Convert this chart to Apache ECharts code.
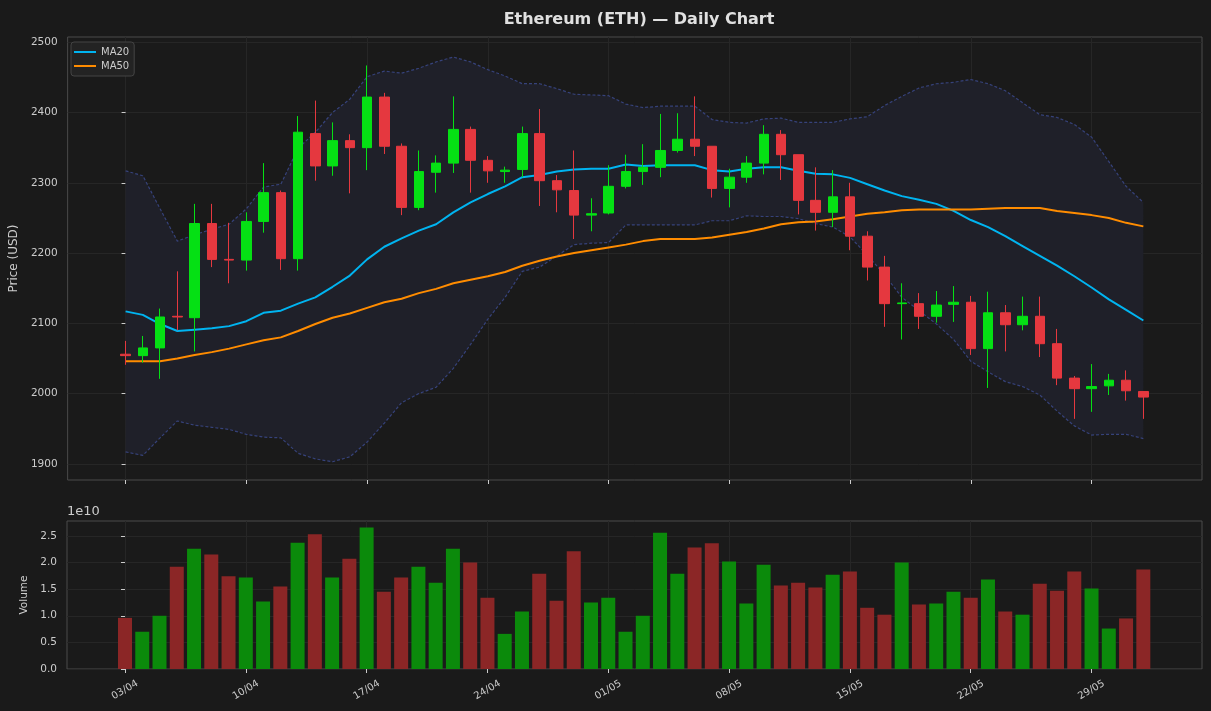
<!DOCTYPE html>
<html>
<head>
<meta charset="utf-8">
<title>Ethereum (ETH) — Daily Chart</title>
<script src="https://cdn.jsdelivr.net/npm/echarts@6/dist/echarts.min.js"></script>
<style>
  html, body { margin: 0; padding: 0; background: #1a1a1a; }
  #chart { width: 1211px; height: 711px; }
</style>
</head>
<body>
<div id="chart"></div>
<script>
  // weekly ticks (day index from 03/04)
  const tickDays = [0, 7, 14, 21, 28, 35, 42, 49, 56]
  const tickLabels = ['03/04', '10/04', '17/04', '24/04', '01/05', '08/05', '15/05', '22/05', '29/05']
  const priceTicks = [1900, 2000, 2100, 2200, 2300, 2400, 2500]
  const volTicks = [0, 0.5e10, 1e10, 1.5e10, 2e10, 2.5e10]

  // OHLC, one per day
  const opens = [2056, 2054, 2065, 2110, 2108, 2242, 2191, 2190, 2245, 2286,
    2192, 2370, 2324, 2360, 2350, 2422, 2352, 2265, 2315, 2328,
    2376, 2332, 2316, 2319, 2370, 2303, 2289, 2254, 2257, 2295,
    2316, 2322, 2346, 2362, 2352, 2292, 2308, 2328, 2369, 2340,
    2275, 2258, 2280, 2224, 2180, 2128, 2128, 2110, 2127, 2130,
    2064, 2115, 2098, 2110, 2071, 2022, 2007, 2011, 2019, 2003]
  const closes = [2054, 2065, 2109, 2109, 2242, 2191, 2190, 2245, 2286, 2192,
    2372, 2324, 2360, 2350, 2422, 2352, 2265, 2316, 2328, 2376,
    2332, 2317, 2318, 2370, 2303, 2290, 2254, 2256, 2295, 2316,
    2322, 2346, 2362, 2352, 2292, 2308, 2328, 2369, 2340, 2275,
    2258, 2280, 2224, 2180, 2128, 2129, 2110, 2126, 2130, 2064,
    2115, 2098, 2110, 2071, 2022, 2007, 2010, 2019, 2004, 1995]
  const lows = [2041, 2044, 2021, 2090, 2060, 2180, 2157, 2175, 2229, 2176,
    2175, 2303, 2310, 2285, 2318, 2341, 2254, 2261, 2286, 2314,
    2286, 2300, 2300, 2308, 2267, 2258, 2220, 2231, 2255, 2292,
    2297, 2308, 2343, 2338, 2279, 2265, 2300, 2312, 2304, 2255,
    2232, 2237, 2204, 2161, 2095, 2077, 2092, 2101, 2102, 2055,
    2008, 2060, 2090, 2052, 2012, 1964, 1974, 1998, 1990, 1964]
  const highs = [2075, 2082, 2121, 2174, 2270, 2270, 2243, 2258, 2328, 2289,
    2395, 2417, 2386, 2369, 2467, 2428, 2356, 2346, 2339, 2423,
    2380, 2338, 2323, 2380, 2405, 2311, 2346, 2278, 2325, 2340,
    2355, 2398, 2399, 2423, 2352, 2320, 2338, 2382, 2375, 2340,
    2322, 2318, 2300, 2231, 2196, 2157, 2143, 2146, 2153, 2139,
    2145, 2126, 2138, 2138, 2092, 2025, 2042, 2028, 2033, 2003]

  // moving averages and bollinger bands
  const ma20 = [2117, 2112, 2099, 2089, 2091, 2093, 2096, 2103, 2115, 2118,
    2128, 2137, 2152, 2168, 2191, 2209, 2221, 2232, 2241, 2258,
    2272, 2284, 2295, 2308, 2311, 2316, 2319, 2320, 2320, 2326,
    2324, 2325, 2325, 2325, 2318, 2316, 2320, 2322, 2322, 2317,
    2313, 2312, 2307, 2298, 2289, 2281, 2276, 2270, 2260, 2247,
    2237, 2224, 2210, 2196, 2182, 2167, 2151, 2134, 2119, 2104]
  const ma50 = [2046, 2046, 2046, 2050, 2055, 2059, 2064, 2070, 2076, 2080,
    2089, 2099, 2108, 2114, 2122, 2130, 2135, 2143, 2149, 2157,
    2162, 2167, 2173, 2182, 2189, 2195, 2200, 2204, 2208, 2212,
    2217, 2220, 2220, 2220, 2222, 2226, 2230, 2235, 2241, 2244,
    2245, 2248, 2252, 2256, 2258, 2261, 2262, 2262, 2262, 2262,
    2263, 2264, 2264, 2264, 2260, 2257, 2254, 2250, 2243, 2238]
  const bbUpper = [2317, 2310, 2263, 2217, 2226, 2234, 2241, 2263, 2294, 2298,
    2349, 2372, 2400, 2419, 2451, 2459, 2456, 2463, 2472, 2479,
    2472, 2461, 2452, 2441, 2441, 2434, 2426, 2425, 2424, 2412,
    2407, 2409, 2409, 2409, 2390, 2386, 2385, 2391, 2392, 2386,
    2386, 2386, 2391, 2394, 2410, 2423, 2435, 2441, 2443, 2447,
    2441, 2431, 2414, 2397, 2393, 2383, 2365, 2330, 2295, 2272]
  const bbLower = [1917, 1912, 1937, 1961, 1955, 1952, 1949, 1942, 1938, 1937,
    1915, 1907, 1903, 1910, 1931, 1958, 1987, 2000, 2009, 2036,
    2070, 2106, 2137, 2174, 2180, 2196, 2212, 2214, 2215, 2240,
    2240, 2240, 2240, 2240, 2246, 2246, 2253, 2252, 2252, 2249,
    2242, 2237, 2223, 2197, 2169, 2137, 2118, 2099, 2077, 2046,
    2031, 2017, 2010, 1998, 1975, 1954, 1941, 1942, 1942, 1936]

  const volumes = [0.96e10, 0.70e10, 1.00e10, 1.92e10, 2.26e10, 2.15e10, 1.74e10, 1.72e10, 1.27e10, 1.55e10,
    2.37e10, 2.53e10, 1.72e10, 2.07e10, 2.66e10, 1.45e10, 1.72e10, 1.92e10, 1.62e10, 2.26e10,
    2.00e10, 1.34e10, 0.66e10, 1.08e10, 1.79e10, 1.28e10, 2.21e10, 1.25e10, 1.34e10, 0.70e10,
    1.00e10, 2.56e10, 1.79e10, 2.28e10, 2.36e10, 2.02e10, 1.23e10, 1.96e10, 1.57e10, 1.62e10,
    1.53e10, 1.77e10, 1.83e10, 1.15e10, 1.02e10, 2.00e10, 1.21e10, 1.23e10, 1.45e10, 1.34e10,
    1.68e10, 1.08e10, 1.02e10, 1.60e10, 1.47e10, 1.83e10, 1.51e10, 0.76e10, 0.95e10, 1.87e10]

  const UP = '#05e014'
  const DOWN = '#e5383f'
  const VOL_UP = '#0b8a0b'
  const VOL_DOWN = '#8b2626'
  const TEXT = '#cccccc'

  const candleData = opens.map((o, i) => [i, o, closes[i], lows[i], highs[i]])
  const volData = volumes.map((v, i) => ({
    value: [i, v],
    itemStyle: { color: closes[i] >= opens[i] ? VOL_UP : VOL_DOWN }
  }))
  const line = (arr) => arr.map((v, i) => [i, v])

  const chart = echarts.init(document.getElementById('chart'))

  const xCommon = {
    type: 'value',
    min: -3.36,
    max: 62.4,
    axisLine: { show: false },
    axisTick: { show: true, customValues: tickDays, length: 4, lineStyle: { color: TEXT } },
    splitLine: { show: true, lineStyle: { color: '#262626', width: 1 } }
  }

  chart.setOption({
    animation: false,
    backgroundColor: '#1a1a1a',
    textStyle: { fontFamily: 'DejaVu Sans' },
    title: {
      text: 'Ethereum (ETH) — Daily Chart',
      left: 634,
      textAlign: 'center',
      top: 7,
      textStyle: { color: '#e0e0e0', fontSize: 16, fontWeight: 'bold', fontFamily: 'DejaVu Sans' }
    },
    legend: {
      data: ['MA20', 'MA50'],
      orient: 'vertical',
      left: 71,
      top: 42,
      padding: [5, 5, 5, 3],
      itemGap: 4,
      itemWidth: 22,
      itemHeight: 2,
      icon: 'rect',
      backgroundColor: '#232323',
      borderColor: '#444444',
      borderWidth: 1,
      borderRadius: 3,
      textStyle: { color: TEXT, fontSize: 10 }
    },
    graphic: [{
      type: 'text',
      left: 67,
      top: 505,
      style: { text: '1e10', fill: TEXT, fontSize: 13, fontFamily: 'DejaVu Sans' }
    }],
    grid: [
      { left: 67, top: 37, width: 1135, height: 443, show: true, borderColor: '#4a4a4a', borderWidth: 1 },
      { left: 67, top: 521, width: 1135, height: 148, show: true, borderColor: '#4a4a4a', borderWidth: 1 }
    ],
    xAxis: [
      { ...xCommon, gridIndex: 0, axisLabel: { show: false } },
      {
        ...xCommon,
        gridIndex: 1,
        axisLabel: {
          show: true,
          customValues: tickDays,
          rotate: 30,
          align: 'center',
          verticalAlign: 'middle',
          margin: 21,
          color: TEXT,
          fontSize: 10,
          formatter: (v) => tickLabels[tickDays.indexOf(v)]
        }
      }
    ],
    yAxis: [
      {
        type: 'value',
        gridIndex: 0,
        min: 1877,
        max: 2507.5,
        name: 'Price (USD)',
        nameLocation: 'middle',
        nameGap: 45,
        nameTextStyle: { color: TEXT, fontSize: 12 },
        axisLine: { show: false },
        axisTick: { show: true, customValues: priceTicks, length: 4, lineStyle: { color: TEXT } },
        axisLabel: { customValues: priceTicks, color: TEXT, fontSize: 10.5, margin: 10, formatter: (v) => String(v) },
        splitLine: { show: true, lineStyle: { color: '#262626' } }
      },
      {
        type: 'value',
        gridIndex: 1,
        min: 0,
        max: 2.78e10,
        name: 'Volume',
        nameLocation: 'middle',
        nameGap: 34,
        nameTextStyle: { color: TEXT, fontSize: 10.5 },
        axisLine: { show: false },
        axisTick: { show: true, customValues: volTicks, length: 4, lineStyle: { color: TEXT } },
        axisLabel: {
          customValues: volTicks,
          color: TEXT,
          fontSize: 10.5,
          margin: 10,
          formatter: (v) => (v / 1e10).toFixed(1)
        },
        splitLine: { show: true, lineStyle: { color: '#262626' } }
      }
    ],
    series: [
      {
        // shaded band between the bollinger lines
        type: 'custom',
        name: 'band',
        xAxisIndex: 0,
        yAxisIndex: 0,
        z: 1,
        silent: true,
        data: line(bbUpper),
        renderItem: (params, api) => {
          if (params.dataIndex !== 0) return
          const pts = []
          bbUpper.forEach((v, i) => pts.push(api.coord([i, v])))
          for (let i = bbLower.length - 1; i >= 0; i--) pts.push(api.coord([i, bbLower[i]]))
          return { type: 'polygon', shape: { points: pts }, style: { fill: '#1f2029' } }
        }
      },
      {
        type: 'line',
        name: 'BB Upper',
        data: line(bbUpper),
        showSymbol: false,
        z: 2,
        lineStyle: { color: '#36427a', width: 1.2, type: [3, 2] }
      },
      {
        type: 'line',
        name: 'BB Lower',
        data: line(bbLower),
        showSymbol: false,
        z: 2,
        lineStyle: { color: '#36427a', width: 1.2, type: [3, 2] }
      },
      {
        type: 'line',
        name: 'MA20',
        data: line(ma20),
        showSymbol: false,
        z: 3,
        color: '#00b4f0',
        lineStyle: { color: '#00b4f0', width: 2 }
      },
      {
        type: 'line',
        name: 'MA50',
        data: line(ma50),
        showSymbol: false,
        z: 3,
        color: '#ff8c00',
        lineStyle: { color: '#ff8c00', width: 2 }
      },
      {
        type: 'candlestick',
        name: 'ETH',
        data: candleData,
        encode: { x: 0, y: [1, 2, 3, 4] },
        barWidth: 10,
        z: 4,
        itemStyle: {
          color: UP,
          color0: DOWN,
          borderColor: UP,
          borderColor0: DOWN,
          borderWidth: 1
        }
      },
      {
        type: 'bar',
        name: 'Volume',
        xAxisIndex: 1,
        yAxisIndex: 1,
        data: volData,
        barWidth: 14
      }
    ]
  })
</script>
</body>
</html>
